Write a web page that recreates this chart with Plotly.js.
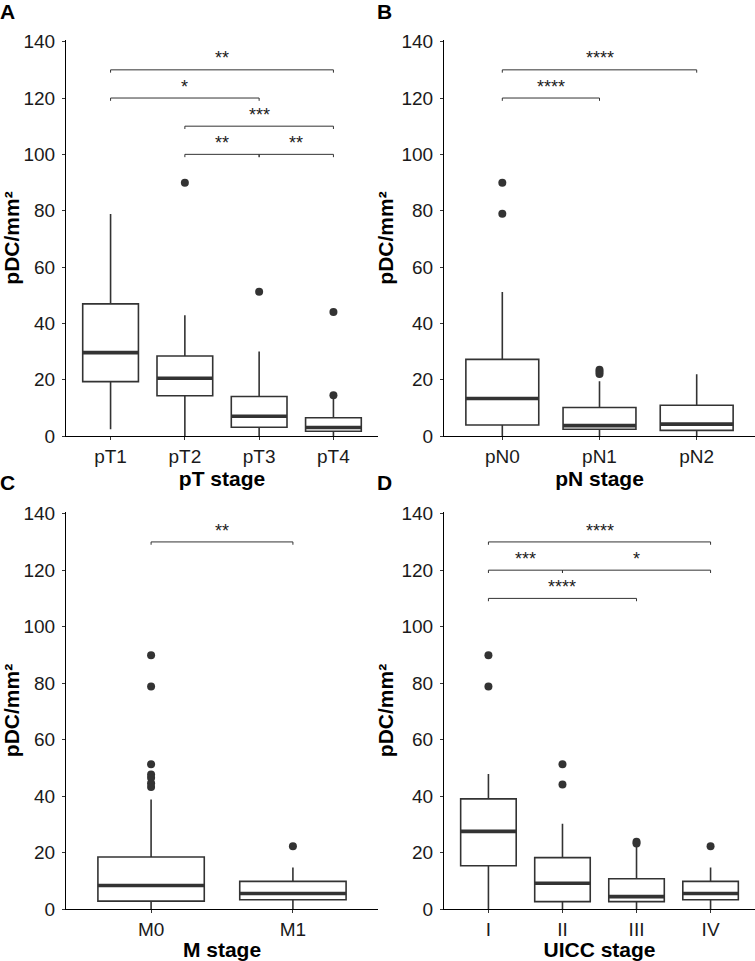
<!DOCTYPE html>
<html><head><meta charset="utf-8">
<script src="https://cdn.plot.ly/plotly-3.0.1.min.js"></script>
<style>html,body{margin:0;padding:0;background:#fff}#chart{width:755px;height:961px}</style>
</head><body><div id="chart"></div>
<script>
// ---- Panel A: pT stage ----
const ptCats = ['pT1', 'pT2', 'pT3', 'pT4'];
const ptQ1 = [19.3, 14.3, 3.1, 1.7];
const ptMedian = [29.6, 20.5, 7.0, 3.0];
const ptQ3 = [46.9, 28.4, 14.0, 6.5];
const ptLower = [2.4, 0.0, 0.0, 0.0];
const ptUpper = [78.8, 42.9, 30.0, 13.4];
const ptOutliers = [[], [89.9], [51.2], [44.0, 14.5]];
const ptSig = [[1, 4, 130, '**'], [1, 3, 120, '*'], [2, 4, 110, '***'], [2, 3, 100, '**'], [3, 4, 100, '**']];

// ---- Panel B: pN stage ----
const pnCats = ['pN0', 'pN1', 'pN2'];
const pnQ1 = [3.9, 2.4, 2.0];
const pnMedian = [13.3, 3.7, 4.2];
const pnQ3 = [27.2, 10.1, 10.9];
const pnLower = [0.0, 0.0, 0.0];
const pnUpper = [51.1, 19.4, 21.9];
const pnOutliers = [[89.9, 78.9], [23.5, 22.8, 22.0], []];
const pnSig = [[1, 3, 130, '****'], [1, 2, 120, '****']];

// ---- Panel C: M stage ----
const mCats = ['M0', 'M1'];
const mQ1 = [2.8, 3.3];
const mMedian = [8.3, 5.5];
const mQ3 = [18.4, 9.8];
const mLower = [0.0, 0.0];
const mUpper = [38.8, 14.7];
const mOutliers = [[89.9, 78.8, 51.3, 47.6, 46.5, 44.5, 43.2], [22.2]];
const mSig = [[1, 2, 130, '**']];

// ---- Panel D: UICC stage ----
const uiccCats = ['I', 'II', 'III', 'IV'];
const uiccQ1 = [15.3, 2.6, 2.6, 3.3];
const uiccMedian = [27.5, 9.1, 4.4, 5.5];
const uiccQ3 = [39.0, 18.2, 10.7, 9.8];
const uiccLower = [0.0, 0.0, 0.0, 0.0];
const uiccUpper = [47.8, 30.2, 22.3, 14.7];
const uiccOutliers = [[89.9, 78.8], [51.3, 44.1], [23.8, 23.2], [22.2]];
const uiccSig = [[1, 4, 130, '****'], [1, 2, 120, '***'], [2, 4, 120, '*'], [1, 3, 110, '****']];

const xTitles = ['pT stage', 'pN stage', 'M stage', 'UICC stage'];
const panelLetters = ['A', 'B', 'C', 'D'];
const yTitle = 'pDC/mm²';

const FONT = 'Arial, "Liberation Sans", sans-serif';
const INK = '#333333';
const BOXW = 0.75;
const TIP = 1.0;

const traces = [];
const annotations = [];

function addPanel(idx, cats, q1, med, q3, lo, hi, outl, sig) {
  const sfx = idx === 0 ? '' : String(idx + 1);
  const xa = 'x' + sfx, ya = 'y' + sfx;
  const pos = cats.map((c, i) => i + 1);
  traces.push({
    type: 'box', xaxis: xa, yaxis: ya, x: pos,
    q1: q1, median: med, q3: q3, lowerfence: lo, upperfence: hi,
    width: BOXW, whiskerwidth: 0, boxpoints: false,
    fillcolor: '#ffffff', line: {color: INK, width: 1.6},
    hoverinfo: 'skip', showlegend: false
  });
  const mx = [], my = [];
  pos.forEach((p, i) => { mx.push(p - BOXW / 2, p + BOXW / 2, null); my.push(med[i], med[i], null); });
  traces.push({type: 'scatter', mode: 'lines', xaxis: xa, yaxis: ya, x: mx, y: my,
    line: {color: INK, width: 3.6}, hoverinfo: 'skip', showlegend: false});
  const ox = [], oy = [];
  outl.forEach((arr, i) => arr.forEach(v => { ox.push(pos[i]); oy.push(v); }));
  traces.push({type: 'scatter', mode: 'markers', xaxis: xa, yaxis: ya, x: ox, y: oy,
    marker: {color: INK, size: 8}, hoverinfo: 'skip', showlegend: false});
  const bx = [], by = [];
  sig.forEach(s => {
    bx.push(s[0], s[0], s[1], s[1], null);
    by.push(s[2] - TIP, s[2], s[2], s[2] - TIP, null);
    annotations.push({xref: xa, yref: ya, x: (s[0] + s[1]) / 2, y: s[2] - 0.2,
      text: s[3], showarrow: false, xanchor: 'center', yanchor: 'bottom',
      font: {family: FONT, size: 18, color: '#1a1a1a'}});
  });
  traces.push({type: 'scatter', mode: 'lines', xaxis: xa, yaxis: ya, x: bx, y: by,
    line: {color: INK, width: 1}, hoverinfo: 'skip', showlegend: false});
}

addPanel(0, ptCats, ptQ1, ptMedian, ptQ3, ptLower, ptUpper, ptOutliers, ptSig);
addPanel(1, pnCats, pnQ1, pnMedian, pnQ3, pnLower, pnUpper, pnOutliers, pnSig);
addPanel(2, mCats, mQ1, mMedian, mQ3, mLower, mUpper, mOutliers, mSig);
addPanel(3, uiccCats, uiccQ1, uiccMedian, uiccQ3, uiccLower, uiccUpper, uiccOutliers, uiccSig);

const W = 755, H = 961;
const xDomL = [66 / W, 378 / W], xDomR = [444 / W, 1];
const yDomT = [1 - 436 / H, 1 - 40 / H], yDomB = [1 - 909 / H, 1 - 512 / H];
const catsAll = [ptCats, pnCats, mCats, uiccCats];
const xDoms = [xDomL, xDomR, xDomL, xDomR];
const yDoms = [yDomT, yDomT, yDomB, yDomB];

const layout = {
  width: W, height: H,
  margin: {l: 0, r: 0, t: 0, b: 0},
  paper_bgcolor: '#ffffff', plot_bgcolor: '#ffffff',
  font: {family: FONT, color: '#1a1a1a'},
  showlegend: false,
  annotations: annotations
};

for (let i = 0; i < 4; i++) {
  const sfx = i === 0 ? '' : String(i + 1);
  const cats = catsAll[i];
  layout['xaxis' + sfx] = {
    domain: xDoms[i], anchor: 'y' + sfx, range: [0.4, cats.length + 0.6],
    tickmode: 'array', tickvals: cats.map((c, j) => j + 1), ticktext: cats,
    showline: true, linecolor: '#000000', linewidth: 1,
    ticks: 'outside', ticklen: 3, tickwidth: 1, tickcolor: INK,
    showgrid: false, zeroline: false, fixedrange: true,
    tickfont: {family: FONT, size: 19, color: '#1a1a1a'},
    title: {text: xTitles[i], standoff: 3, font: {family: FONT, size: 21, color: '#000000', weight: 'bold'}}
  };
  layout['yaxis' + sfx] = {
    domain: yDoms[i], anchor: 'x' + sfx, range: [0, 140.6],
    tickmode: 'array', tickvals: [0, 20, 40, 60, 80, 100, 120, 140],
    showline: true, linecolor: '#000000', linewidth: 1,
    ticks: 'outside', ticklen: 3, tickwidth: 1, tickcolor: INK,
    showgrid: false, zeroline: false, fixedrange: true,
    ticklabelstandoff: 3,
    tickfont: {family: FONT, size: 19, color: '#1a1a1a'},
    title: {text: yTitle, standoff: 2, font: {family: FONT, size: 21, color: '#000000', weight: 'bold'}}
  };
  annotations.push({xref: 'paper', yref: 'paper',
    x: (i % 2 === 0 ? -0.002 : 375 / W), y: (i < 2 ? 1.002 : 1 - 469 / H),
    xanchor: 'left', yanchor: 'top', text: panelLetters[i], showarrow: false,
    font: {family: FONT, size: 21, color: '#000000', weight: 'bold'}});
}

Plotly.newPlot('chart', traces, layout, {displayModeBar: false, staticPlot: true});
</script></body></html>
